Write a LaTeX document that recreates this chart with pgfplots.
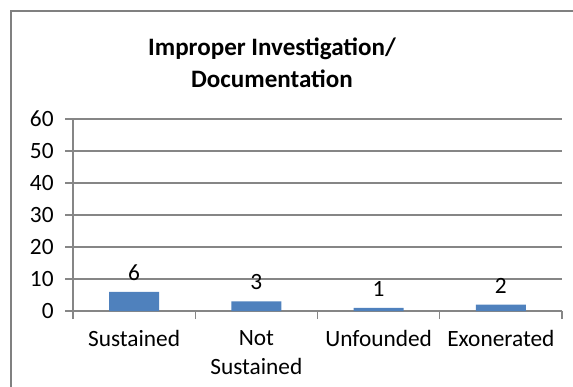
\documentclass[border=0pt]{standalone}
\usepackage{pgfplots}
\pgfplotsset{compat=1.18}
\usepackage{fontspec}
\setmainfont{Carlito}
\definecolor{barblue}{RGB}{79,129,189}
\definecolor{gridgray}{RGB}{134,134,134}
\definecolor{framegray}{RGB}{128,128,128}

\begin{document}
\begin{tikzpicture}[x=0.75pt,y=0.75pt]
% page = 573 x 386 px, 1px = 0.75pt
\useasboundingbox (0,0) rectangle (573,386);
\begin{scope}
\clip (0,0) rectangle (573,386);
\draw[framegray, line width=1.4pt] (11,-20) -- (11,375) -- (600,375);
\end{scope}

\node[font=\bfseries\fontsize{18.8pt}{24pt}\selectfont, align=center]
    at (272,323) {Improper Investigation/\\Documentation};

\begin{axis}[
    at={(54.75pt,56.25pt)}, anchor=south west,
    scale only axis,
    width=366.75pt, height=144pt,
    xmin=-0.5, xmax=3.5, ymin=0, ymax=60,
    axis x line*=bottom, axis y line*=left,
    axis line style={gridgray, line width=0.8pt},
    xtick={0,1,2,3},
    xticklabels={Sustained, Not\\Sustained, Unfounded, Exonerated},
    major x tick style={draw=none},
    minor xtick={-0.5,0.5,1.5,2.5,3.5},
    minor x tick style={gridgray, line width=0.8pt},
    minor tick length=6pt,
    ytick={0,10,...,60},
    major y tick style={gridgray, line width=0.8pt},
    major tick length=6pt,
    tick align=outside,
    ymajorgrids,
    grid style={gridgray, line width=0.8pt},
    tick label style={font=\fontsize{17.5pt}{22pt}\selectfont},
    xticklabel style={align=center, yshift=-5pt},
    yticklabel style={xshift=-5pt},
    /pgf/number format/assume math mode=true,
    ybar, bar width=37.5pt,
    nodes near coords,
    every node near coord/.append style={font=\fontsize{17.5pt}{22pt}\selectfont, black, yshift=5pt},
]
\addplot[fill=barblue, draw=none] coordinates {(0,6) (1,3) (2,1) (3,2)};
\end{axis}
\end{tikzpicture}
\end{document}
